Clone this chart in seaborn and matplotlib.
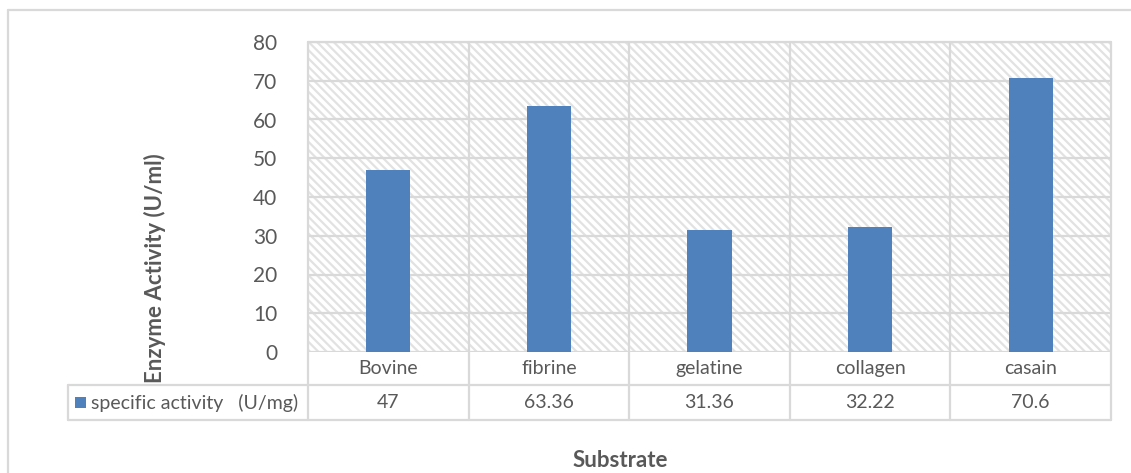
import matplotlib
matplotlib.use("Agg")
import matplotlib.pyplot as plt
from matplotlib.patches import Rectangle
from matplotlib.lines import Line2D
import seaborn as sns
import pandas as pd

# Substrate specificity of the enzyme
substrates = ["Bovine", "fibrine", "gelatine", "collagen", "casain"]
activity = [47, 63.36, 31.36, 32.22, 70.6]
value_labels = ["47", "63.36", "31.36", "32.22", "70.6"]
series_name = "specific activity   (U/mg)"
y_ticks = [0, 10, 20, 30, 40, 50, 60, 70, 80]

sns.set_theme(style="white")
plt.rcParams["font.family"] = ["Lato", "DejaVu Sans"]
plt.rcParams["hatch.linewidth"] = 1.6
plt.rcParams["hatch.color"] = "#e2e2e2"

TXT = "#595959"
GRID = "#d9d9d9"
BAR = "#4f81bd"

W, H = 1131, 473
fig = plt.figure(figsize=(W / 100, H / 100), dpi=100)
fig.patch.set_facecolor("white")

# plot area in pixel terms
x0, x1, ytop, ybot = 308, 1111, 42, 352
ax = fig.add_axes([x0 / W, 1 - ybot / H, (x1 - x0) / W, (ybot - ytop) / H])

df = pd.DataFrame({"Substrate": substrates, "Activity": activity})

# hatched background
ax.set_facecolor("white")
ax.add_patch(Rectangle((0, 0), 1, 1, transform=ax.transAxes, facecolor="white",
                       edgecolor="#e2e2e2", hatch="\\\\\\\\", linewidth=0, zorder=0))

sns.barplot(data=df, x="Substrate", y="Activity", order=substrates, color=BAR,
            width=0.275, saturation=1, ax=ax, zorder=3, edgecolor="none")

ax.set_xlim(-0.5, len(substrates) - 0.5)
ax.set_ylim(0, 80)
ax.set_yticks(y_ticks)
ax.set_yticklabels([str(v) for v in y_ticks], fontsize=15, color=TXT)
ax.tick_params(axis="y", length=0, pad=22)
ax.set_xticks([])
ax.set_xlabel("")
ax.set_ylabel("")
for s in ax.spines.values():
    s.set_visible(False)

# horizontal gridlines
for v in y_ticks:
    ax.axhline(v, color=GRID, lw=1.6, zorder=1)

# data table geometry (axes fraction)
ph = ybot - ytop
pw = x1 - x0
def fy(py):
    return (ybot - py) / ph
def fx(px):
    return (px - x0) / pw

row1_bot = fy(385)
row2_bot = fy(420)
left_col = fx(68)

line_kw = dict(color=GRID, lw=1.6, transform=ax.transAxes, clip_on=False, zorder=2)

# vertical boundaries through plot and table
n = len(substrates)
for i in range(n + 1):
    xf = i / n
    ax.add_line(Line2D([xf, xf], [row2_bot, 1], **line_kw))
ax.add_line(Line2D([0, 1], [1, 1], **line_kw))
ax.add_line(Line2D([left_col, 1], [row1_bot, row1_bot], **line_kw))
ax.add_line(Line2D([left_col, 1], [row2_bot, row2_bot], **line_kw))
ax.add_line(Line2D([left_col, left_col], [row2_bot, row1_bot], **line_kw))

# table text
cy1 = (0 + row1_bot) / 2
cy2 = (row1_bot + row2_bot) / 2
for i, (name, lab) in enumerate(zip(substrates, value_labels)):
    xc = (i + 0.5) / n
    ax.text(xc, cy1, name, transform=ax.transAxes, ha="center", va="center",
            fontsize=14, color=TXT)
    ax.text(xc, cy2, lab, transform=ax.transAxes, ha="center", va="center",
            fontsize=14, color=TXT)

# legend key inside the table
ax.add_patch(Rectangle((fx(75), cy2 - 5.5 / ph), 11 / pw, 11 / ph,
                       transform=ax.transAxes, facecolor=BAR, edgecolor="none",
                       clip_on=False))
ax.text(fx(91), cy2, series_name, transform=ax.transAxes, ha="left", va="center",
        fontsize=14, color=TXT)

# axis titles
fig.text(155 / W, 1 - 268 / H, "Enzyme Activity (U/ml)", rotation=90,
         ha="center", va="center", fontsize=16, fontweight="bold", color=TXT)
fig.text(620 / W, 1 - 460 / H, "Substrate", ha="center", va="center",
         fontsize=16, fontweight="bold", color=TXT)

# chart frame
fig.add_artist(Line2D([8 / W, 8 / W], [0, 1 - 10 / H], color=GRID, lw=1.6,
                      transform=fig.transFigure))
fig.add_artist(Line2D([8 / W, 1], [1 - 10 / H, 1 - 10 / H], color=GRID, lw=1.6,
                      transform=fig.transFigure))

fig.savefig("out.png", dpi=100, facecolor="white")
